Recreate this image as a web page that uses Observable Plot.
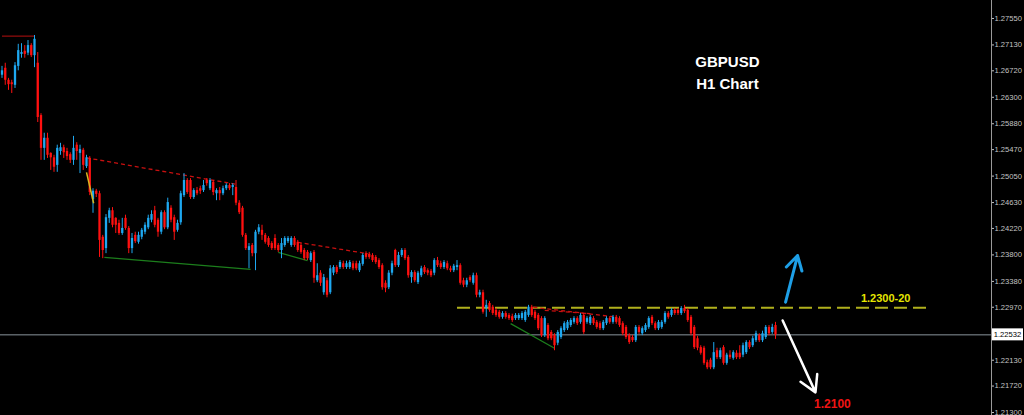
<!DOCTYPE html>
<html><head><meta charset="utf-8">
<script src="https://cdn.jsdelivr.net/npm/d3@7"></script>
<script src="https://cdn.jsdelivr.net/npm/@observablehq/plot@0.6"></script>
<style>
html,body{margin:0;padding:0;background:#000;}
#chart{width:1024px;height:415px;overflow:hidden;}
</style></head><body><div id="chart"></div>
<script>
// GBPUSD H1 candles (index = bar number)
const opens=[
1.2665,1.2676,1.2657,1.2653,1.2649,1.2679,1.2698,1.2703,1.2700,1.2712,
1.2696,1.2684,1.2601,1.2549,1.2565,1.2541,1.2534,1.2522,1.2544,1.2550,
1.2544,1.2539,1.2530,1.2554,1.2541,1.2546,1.2520,1.2533,1.2468,1.2481,
1.2477,1.2408,1.2390,1.2438,1.2450,1.2438,1.2430,1.2414,1.2438,1.2422,
1.2390,1.2411,1.2400,1.2408,1.2416,1.2423,1.2435,1.2450,1.2435,1.2416,
1.2447,1.2423,1.2454,1.2439,1.2419,1.2431,1.2474,1.2498,1.2498,1.2471,
1.2482,1.2485,1.2482,1.2498,1.2485,1.2495,1.2477,1.2482,1.2477,1.2485,
1.2490,1.2487,1.2487,1.2462,1.2454,1.2411,1.2387,1.2395,1.2382,1.2416,
1.2419,1.2411,1.2406,1.2398,1.2406,1.2395,1.2387,1.2395,1.2401,1.2395,
1.2406,1.2400,1.2395,1.2387,1.2384,1.2371,1.2384,1.2339,1.2351,1.2320,
1.2339,1.2320,1.2351,1.2360,1.2360,1.2366,1.2360,1.2360,1.2366,1.2366,
1.2355,1.2365,1.2382,1.2381,1.2379,1.2376,1.2371,1.2363,1.2335,1.2328,
1.2351,1.2387,1.2363,1.2379,1.2387,1.2376,1.2344,1.2352,1.2336,1.2347,
1.2360,1.2355,1.2354,1.2351,1.2371,1.2366,1.2360,1.2366,1.2358,1.2355,
1.2360,1.2363,1.2339,1.2332,1.2344,1.2335,1.2347,1.2316,1.2320,1.2295,
1.2303,1.2297,1.2292,1.2289,1.2281,1.2287,1.2284,1.2282,1.2279,1.2279,
1.2279,1.2276,1.2284,1.2297,1.2289,1.2284,1.2279,1.2252,1.2268,1.2257,
1.2252,1.2240,1.2249,1.2260,1.2263,1.2268,1.2273,1.2279,1.2273,1.2284,
1.2273,1.2271,1.2279,1.2273,1.2271,1.2263,1.2271,1.2279,1.2273,1.2281,
1.2279,1.2271,1.2265,1.2252,1.2249,1.2244,1.2265,1.2255,1.2260,1.2265,
1.2281,1.2271,1.2263,1.2265,1.2273,1.2287,1.2284,1.2292,1.2292,1.2287,
1.2295,1.2292,1.2281,1.2265,1.2247,1.2233,1.2232,1.2209,1.2213,1.2201,
1.2228,1.2217,1.2233,1.2208,1.2221,1.2216,1.2224,1.2224,1.2221,1.2225,
1.2241,1.2236,1.2244,1.2252,1.2244,1.2249,1.2265,1.2257,1.2268];
const highs=[
1.2679,1.2684,1.2660,1.2657,1.2685,1.2714,1.2715,1.2712,1.2720,1.2715,
1.2728,1.2701,1.2604,1.2573,1.2573,1.2542,1.2538,1.2554,1.2557,1.2554,
1.2549,1.2542,1.2568,1.2558,1.2554,1.2549,1.2538,1.2536,1.2485,1.2484,
1.2481,1.2411,1.2444,1.2454,1.2455,1.2439,1.2435,1.2438,1.2443,1.2425,
1.2414,1.2416,1.2416,1.2422,1.2431,1.2443,1.2450,1.2457,1.2438,1.2450,
1.2450,1.2470,1.2458,1.2443,1.2435,1.2481,1.2509,1.2501,1.2501,1.2485,
1.2487,1.2489,1.2498,1.2501,1.2501,1.2498,1.2485,1.2487,1.2489,1.2493,
1.2493,1.2493,1.2498,1.2466,1.2457,1.2414,1.2398,1.2398,1.2419,1.2428,
1.2427,1.2414,1.2409,1.2401,1.2412,1.2398,1.2406,1.2409,1.2409,1.2409,
1.2409,1.2403,1.2398,1.2390,1.2387,1.2385,1.2387,1.2366,1.2355,1.2349,
1.2343,1.2363,1.2363,1.2363,1.2371,1.2370,1.2370,1.2371,1.2370,1.2370,
1.2370,1.2382,1.2385,1.2384,1.2382,1.2379,1.2374,1.2366,1.2339,1.2355,
1.2370,1.2389,1.2384,1.2390,1.2390,1.2379,1.2355,1.2355,1.2354,1.2362,
1.2363,1.2358,1.2357,1.2374,1.2376,1.2370,1.2371,1.2370,1.2362,1.2365,
1.2371,1.2366,1.2343,1.2343,1.2347,1.2351,1.2351,1.2324,1.2324,1.2308,
1.2306,1.2300,1.2295,1.2292,1.2290,1.2290,1.2287,1.2286,1.2287,1.2287,
1.2290,1.2292,1.2300,1.2300,1.2292,1.2287,1.2282,1.2282,1.2271,1.2260,
1.2255,1.2260,1.2266,1.2274,1.2276,1.2279,1.2282,1.2282,1.2287,1.2287,
1.2282,1.2284,1.2282,1.2276,1.2274,1.2276,1.2282,1.2282,1.2284,1.2284,
1.2282,1.2274,1.2268,1.2255,1.2252,1.2268,1.2268,1.2266,1.2271,1.2282,
1.2284,1.2274,1.2276,1.2276,1.2290,1.2290,1.2295,1.2295,1.2295,1.2298,
1.2300,1.2295,1.2284,1.2268,1.2251,1.2236,1.2235,1.2213,1.2216,1.2241,
1.2232,1.2232,1.2236,1.2224,1.2228,1.2228,1.2228,1.2236,1.2240,1.2244,
1.2244,1.2251,1.2259,1.2255,1.2259,1.2268,1.2268,1.2270,1.2273];
const lows=[
1.2660,1.2649,1.2641,1.2636,1.2644,1.2672,1.2692,1.2692,1.2696,1.2693,
1.2677,1.2590,1.2530,1.2530,1.2533,1.2514,1.2511,1.2511,1.2538,1.2533,
1.2530,1.2525,1.2522,1.2530,1.2509,1.2514,1.2517,1.2474,1.2446,1.2471,
1.2376,1.2374,1.2382,1.2430,1.2423,1.2414,1.2411,1.2411,1.2419,1.2382,
1.2382,1.2398,1.2397,1.2404,1.2412,1.2420,1.2431,1.2423,1.2408,1.2412,
1.2420,1.2420,1.2431,1.2403,1.2416,1.2427,1.2471,1.2476,1.2468,1.2468,
1.2474,1.2476,1.2479,1.2489,1.2482,1.2474,1.2466,1.2466,1.2474,1.2482,
1.2482,1.2474,1.2458,1.2444,1.2408,1.2387,1.2358,1.2377,1.2355,1.2412,
1.2403,1.2397,1.2392,1.2387,1.2387,1.2384,1.2374,1.2392,1.2398,1.2392,
1.2392,1.2384,1.2381,1.2371,1.2371,1.2368,1.2335,1.2336,1.2330,1.2316,
1.2312,1.2317,1.2347,1.2349,1.2357,1.2357,1.2357,1.2357,1.2355,1.2355,
1.2352,1.2362,1.2373,1.2373,1.2368,1.2365,1.2357,1.2324,1.2320,1.2325,
1.2347,1.2360,1.2360,1.2376,1.2371,1.2343,1.2335,1.2336,1.2333,1.2344,
1.2349,1.2347,1.2344,1.2347,1.2360,1.2357,1.2357,1.2355,1.2352,1.2352,
1.2355,1.2332,1.2328,1.2328,1.2336,1.2332,1.2312,1.2312,1.2286,1.2281,
1.2289,1.2284,1.2281,1.2278,1.2278,1.2278,1.2276,1.2273,1.2276,1.2276,
1.2276,1.2273,1.2281,1.2281,1.2276,1.2260,1.2249,1.2249,1.2244,1.2244,
1.2228,1.2236,1.2246,1.2257,1.2260,1.2265,1.2270,1.2268,1.2270,1.2254,
1.2270,1.2268,1.2268,1.2262,1.2260,1.2260,1.2268,1.2270,1.2270,1.2270,
1.2265,1.2252,1.2246,1.2238,1.2241,1.2241,1.2254,1.2252,1.2257,1.2262,
1.2268,1.2260,1.2260,1.2262,1.2270,1.2278,1.2281,1.2284,1.2284,1.2284,
1.2287,1.2273,1.2252,1.2230,1.2228,1.2221,1.2205,1.2198,1.2198,1.2198,
1.2214,1.2214,1.2205,1.2205,1.2214,1.2213,1.2214,1.2214,1.2217,1.2222,
1.2230,1.2233,1.2241,1.2241,1.2241,1.2246,1.2252,1.2254,1.2246];
const closes=[
1.2672,1.2657,1.2650,1.2650,1.2680,1.2704,1.2701,1.2698,1.2712,1.2696,
1.2722,1.2598,1.2549,1.2565,1.2538,1.2534,1.2519,1.2549,1.2550,1.2542,
1.2536,1.2530,1.2549,1.2544,1.2547,1.2522,1.2534,1.2479,1.2481,1.2476,
1.2403,1.2387,1.2439,1.2450,1.2427,1.2427,1.2414,1.2422,1.2422,1.2390,
1.2406,1.2401,1.2411,1.2419,1.2427,1.2438,1.2444,1.2427,1.2416,1.2447,
1.2423,1.2463,1.2435,1.2416,1.2430,1.2477,1.2498,1.2479,1.2471,1.2482,
1.2477,1.2481,1.2490,1.2493,1.2498,1.2479,1.2482,1.2477,1.2485,1.2490,
1.2485,1.2490,1.2462,1.2447,1.2411,1.2390,1.2393,1.2382,1.2416,1.2423,
1.2411,1.2400,1.2395,1.2390,1.2390,1.2387,1.2398,1.2406,1.2406,1.2406,
1.2395,1.2387,1.2384,1.2374,1.2374,1.2382,1.2343,1.2347,1.2335,1.2344,
1.2316,1.2358,1.2360,1.2352,1.2368,1.2360,1.2366,1.2368,1.2358,1.2358,
1.2366,1.2379,1.2376,1.2376,1.2371,1.2368,1.2360,1.2328,1.2327,1.2351,
1.2366,1.2363,1.2379,1.2387,1.2374,1.2347,1.2352,1.2339,1.2351,1.2358,
1.2352,1.2351,1.2347,1.2371,1.2363,1.2360,1.2368,1.2358,1.2355,1.2362,
1.2363,1.2335,1.2332,1.2339,1.2339,1.2347,1.2316,1.2320,1.2289,1.2300,
1.2292,1.2287,1.2284,1.2281,1.2287,1.2281,1.2279,1.2276,1.2284,1.2284,
1.2287,1.2289,1.2297,1.2284,1.2279,1.2263,1.2252,1.2279,1.2247,1.2247,
1.2236,1.2257,1.2263,1.2271,1.2273,1.2276,1.2279,1.2271,1.2284,1.2257,
1.2279,1.2281,1.2271,1.2265,1.2263,1.2273,1.2279,1.2273,1.2281,1.2273,
1.2268,1.2255,1.2249,1.2241,1.2244,1.2265,1.2257,1.2263,1.2268,1.2279,
1.2271,1.2263,1.2273,1.2273,1.2287,1.2281,1.2292,1.2287,1.2287,1.2295,
1.2290,1.2276,1.2255,1.2233,1.2232,1.2224,1.2208,1.2201,1.2201,1.2225,
1.2217,1.2228,1.2208,1.2221,1.2217,1.2225,1.2217,1.2217,1.2236,1.2241,
1.2233,1.2247,1.2255,1.2244,1.2255,1.2265,1.2255,1.2265,1.2253];

// price axis tick labels
const priceTicks=[1.2755,1.2713,1.2672,1.2630,1.2588,1.2547,1.2505,1.2463,1.2422,1.2380,1.2338,1.2297,1.2213,1.2172,1.2130];
const currentPrice=1.22532;

// annotations (bar index, price)
const levelLine=[{x1:140,x2:285,y:1.2296}];
const solidRedLines=[{x1:0,y1:1.2727,x2:10,y2:1.2727}];
const dashedRedLines=[
 {x1:26,y1:1.2534,x2:72,y2:1.2492},
 {x1:91,y1:1.2400,x2:112.5,y2:1.2382},
 {x1:163.5,y1:1.2297,x2:188,y2:1.2282},
 {x1:167,y1:1.2292,x2:181,y2:1.2287}];
const greenLines=[
 {x1:31.5,y1:1.2376,x2:76.5,y2:1.2357},
 {x1:85,y1:1.2384,x2:94,y2:1.2371},
 {x1:156.5,y1:1.2271,x2:170,y2:1.2232}];
const yellowLines=[{x1:26,y1:1.2511,x2:28.2,y2:1.2462}];
const upArrow=[{x1:241.1,y1:1.2305,x2:244.8,y2:1.2379}];
const downArrow=[{x1:240.2,y1:1.2276,x2:250.3,y2:1.2162}];
const levelText=[{x:271.9,y:1.2311,t:"1.2300-20"}];
const targetText=[{x:255.5,y:1.2144,t:"1.2100"}];
const titleText=[{x:223.2,y:1.2685,t:"GBPUSD"},{x:223.2,y:1.2651,t:"H1 Chart"}];

const data=opens.map((o,i)=>({i,o,h:highs[i],l:lows[i],c:closes[i]}));
const up=data.filter(d=>d.c>=d.o), dn=data.filter(d=>d.c<d.o);
const BULL="#1ea8f0", BEAR="#ff1010";
const W=1024,H=415,AX=991;
const xDom=[(0-1.5)/3.25,(AX-1.5)/3.25];
const FONT="'Liberation Sans', Arial, sans-serif";

const chart=Plot.plot({
 width:W,height:H,marginLeft:0,marginRight:W-AX,marginTop:0,marginBottom:0,
 style:{background:"#000",color:"#c4c4c4",fontFamily:FONT},
 x:{type:"linear",domain:xDom,axis:null},
 y:{domain:[1.21253,1.27835],axis:null},
 marks:[
  Plot.ruleY([currentPrice],{stroke:"#8a949c",strokeWidth:1}),
  Plot.link(levelLine,{x1:"x1",x2:"x2",y1:"y",y2:"y",stroke:"#b0b01c",strokeWidth:2,strokeDasharray:"13,6"}),
  Plot.link(solidRedLines,{x1:"x1",y1:"y1",x2:"x2",y2:"y2",stroke:"#b81010",strokeWidth:1}),
  Plot.link(greenLines,{x1:"x1",y1:"y1",x2:"x2",y2:"y2",stroke:"#1c7e1c",strokeWidth:1.2}),
  Plot.link(dashedRedLines,{x1:"x1",y1:"y1",x2:"x2",y2:"y2",stroke:"#c81010",strokeWidth:1.3,strokeDasharray:"4,3"}),
  Plot.ruleX(up,{x:"i",y1:"l",y2:"h",stroke:BULL,strokeWidth:1}),
  Plot.ruleX(dn,{x:"i",y1:"l",y2:"h",stroke:BEAR,strokeWidth:1}),
  Plot.ruleX(up,{x:"i",y1:"o",y2:"c",stroke:BULL,strokeWidth:2.3}),
  Plot.ruleX(dn,{x:"i",y1:"o",y2:"c",stroke:BEAR,strokeWidth:2.3}),
  Plot.link(yellowLines,{x1:"x1",y1:"y1",x2:"x2",y2:"y2",stroke:"#d8b820",strokeWidth:1.5}),
  Plot.arrow(upArrow,{x1:"x1",y1:"y1",x2:"x2",y2:"y2",stroke:"#1e9fe6",strokeWidth:3,headLength:11}),
  Plot.arrow(downArrow,{x1:"x1",y1:"y1",x2:"x2",y2:"y2",stroke:"#ffffff",strokeWidth:2.5,headLength:11}),
  Plot.text(levelText,{x:"x",y:"y",text:"t",fill:"#e6e600",fontWeight:"bold",fontSize:11}),
  Plot.text(targetText,{x:"x",y:"y",text:"t",fill:"#f01414",fontWeight:"bold",fontSize:12}),
  Plot.text(titleText,{x:"x",y:"y",text:"t",fill:"#ffffff",fontWeight:"bold",fontSize:15}),
  Plot.ruleX([xDom[1]],{stroke:"#9a9a9a",strokeWidth:1}),
  Plot.axisY(priceTicks,{anchor:"right",tickSize:2,tickPadding:1,tickFormat:d=>d.toFixed(5),fontSize:7.6})
 ]
});
document.getElementById("chart").appendChild(chart);

// current price tag on the price axis
const yS=chart.scale("y");
const cy=yS.apply(currentPrice);
const svg=d3.select(chart);
svg.append("rect").attr("x",AX+1).attr("y",cy-6).attr("width",W-AX-2).attr("height",12).attr("fill","#ffffff");
svg.append("text").attr("x",AX+1+(W-AX-2)/2).attr("y",cy+3).attr("text-anchor","middle")
 .attr("font-size",7.6).attr("fill","#000").attr("font-family",FONT)
 .text(currentPrice.toFixed(5));
</script>
</body></html>
